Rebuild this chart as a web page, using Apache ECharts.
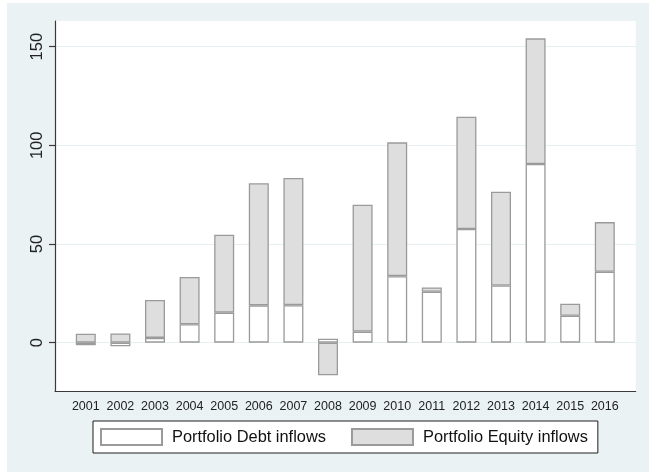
<!DOCTYPE html>
<html>
<head>
<meta charset="utf-8">
<script src="https://cdn.jsdelivr.net/npm/echarts@6/dist/echarts.min.js"></script>
<style>
  html, body { margin: 0; padding: 0; background: #ffffff; }
  #chart {
    width: 649px; height: 472px;
    background: linear-gradient(#eaf2f3, #eaf2f3) 7px 3px / 642px 469px no-repeat, #ffffff;
  }
</style>
</head>
<body>
<div id="chart"></div>
<script>
// Portfolio inflows by year (stacked: debt + equity)
const years = ['2001', '2002', '2003', '2004', '2005', '2006', '2007', '2008',
               '2009', '2010', '2011', '2012', '2013', '2014', '2015', '2016'];
const debtInflows   = [-1.3, -1.8, 2.4, 9.3, 15.2, 18.9, 19.0, 2.0,
                       5.6, 33.7, 25.8, 57.6, 29.0, 90.5, 13.6, 35.9];
const equityInflows = [4.5, 4.7, 19.2, 24.0, 39.5, 61.9, 64.5, -16.5,
                       64.3, 67.8, 2.2, 56.9, 47.5, 63.7, 6.1, 25.2];
const yTicks = [0, 50, 100, 150];
const seriesNames = ['Portfolio Debt inflows', 'Portfolio Equity inflows'];

const yMin = -24.5, yMax = 163;
const FONT = "'Liberation Sans', Arial, sans-serif";
const barBorder = '#9a9a9a';
const axisColor = '#3a3a3a';

const chart = echarts.init(document.getElementById('chart'), null, { renderer: 'canvas' });

chart.setOption({
  animation: false,
  backgroundColor: 'transparent',
  grid: [
    // bar grid (categories)
    { left: 68.5, right: 26.9, top: 21, bottom: 81 },
    // plot region: white background, axes and gridlines
    { left: 55, right: 13.3, top: 21, bottom: 81, show: true,
      backgroundColor: '#ffffff', borderWidth: 0, z: 0 }
  ],
  xAxis: [
    {
      type: 'category', gridIndex: 0, data: years,
      axisLine: { show: false }, axisTick: { show: false },
      axisLabel: { interval: 0, fontFamily: FONT, fontSize: 12.5, color: '#222', margin: 9 },
      splitLine: { show: false }
    },
    {
      type: 'value', gridIndex: 1, min: 0, max: 1, position: 'bottom',
      axisLine: { show: true, onZero: false, lineStyle: { color: axisColor, width: 1.2 } },
      axisTick: { show: false }, axisLabel: { show: false }, splitLine: { show: false }
    }
  ],
  yAxis: [
    { type: 'value', gridIndex: 0, min: yMin, max: yMax, show: false },
    {
      type: 'value', gridIndex: 1, min: yMin, max: yMax, position: 'left',
      axisLine: { show: true, onZero: false, lineStyle: { color: axisColor, width: 1.2 } },
      axisTick: { show: true, length: 6, customValues: yTicks,
                  lineStyle: { color: axisColor, width: 1.2 } },
      axisLabel: { customValues: yTicks, rotate: 90, fontFamily: FONT, fontSize: 16.5,
                   color: '#222', margin: 9 },
      splitLine: { show: true, lineStyle: { color: '#e6eff1', width: 1.2 } }
    }
  ],
  legend: {
    data: seriesNames,
    left: 93, top: 421,
    orient: 'horizontal',
    padding: [7, 10, 7, 7],
    itemGap: 25, itemWidth: 61, itemHeight: 16,
    icon: 'rect',
    backgroundColor: '#ffffff',
    borderColor: '#1e1e1e', borderWidth: 1, borderRadius: 0,
    selectedMode: false,
    textStyle: { fontFamily: FONT, fontSize: 16.4, color: '#111', lineHeight: 16,
                 padding: [0, 0, 0, 5] }
  },
  series: [
    {
      name: seriesNames[0], type: 'bar', stack: 'flows',
      xAxisIndex: 0, yAxisIndex: 0, barWidth: 20,
      data: debtInflows,
      itemStyle: { color: '#ffffff', borderColor: barBorder, borderWidth: 1.3 }
    },
    {
      name: seriesNames[1], type: 'bar', stack: 'flows',
      xAxisIndex: 0, yAxisIndex: 0, barWidth: 20,
      data: equityInflows,
      itemStyle: { color: '#dedede', borderColor: barBorder, borderWidth: 1.3 }
    }
  ]
});
</script>
</body>
</html>
